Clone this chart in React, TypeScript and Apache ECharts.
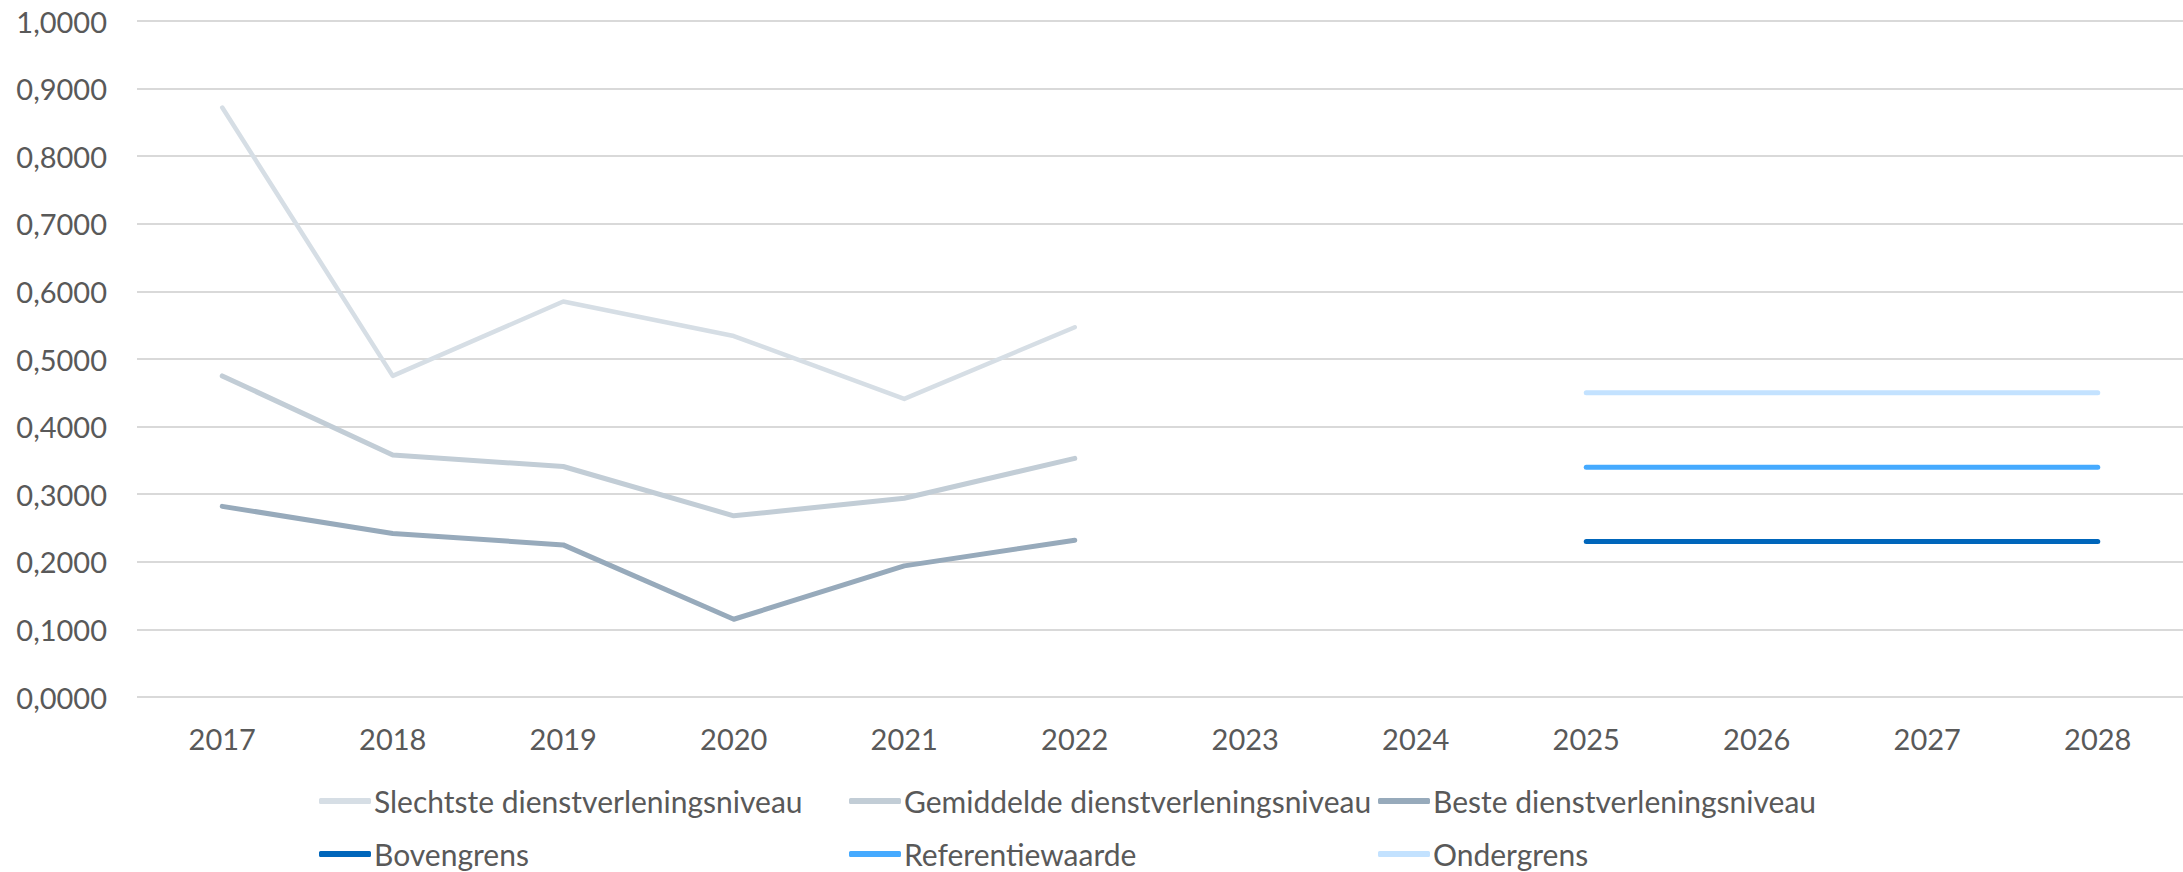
import React, { useEffect, useRef } from "react";
import * as echarts from "echarts";

const years = ["2017", "2018", "2019", "2020", "2021", "2022", "2023", "2024", "2025", "2026", "2027", "2028"];
const slechtste = [0.872, 0.475, 0.585, 0.534, 0.441, 0.547, null, null, null, null, null, null];
const gemiddelde = [0.475, 0.358, 0.341, 0.268, 0.294, 0.353, null, null, null, null, null, null];
const beste = [0.282, 0.242, 0.225, 0.115, 0.194, 0.232, null, null, null, null, null, null];
const bovengrens = [null, null, null, null, null, null, null, null, 0.23, 0.23, 0.23, 0.23];
const referentiewaarde = [null, null, null, null, null, null, null, null, 0.34, 0.34, 0.34, 0.34];
const ondergrens = [null, null, null, null, null, null, null, null, 0.45, 0.45, 0.45, 0.45];

const names = [
  "Slechtste dienstverleningsniveau",
  "Gemiddelde dienstverleningsniveau",
  "Beste dienstverleningsniveau",
  "Bovengrens",
  "Referentiewaarde",
  "Ondergrens",
];
const colors = ["#D6DEE5", "#C2CDD6", "#97AABB", "#0066BB", "#45AAFF", "#C3E2FF"];
const widths = [4.5, 5, 5, 5, 5, 5];
const seriesData = [slechtste, gemiddelde, beste, bovengrens, referentiewaarde, ondergrens];

const FONT = "Lato, 'Open Sans', sans-serif";
const TEXT = "#595959";
const legendLefts = [319, 849, 1378];
const legendTops = [786, 839];

export default function App() {
  const ref = useRef<HTMLDivElement>(null);
  useEffect(() => {
    if (!ref.current) return;
    const chart = echarts.init(ref.current, null, { renderer: "svg" });
    const legends = names.map((n, i) => ({
      orient: "horizontal",
      itemWidth: 52,
      itemHeight: 6,
      itemGap: 0,
      icon: "roundRect",
      textStyle: { color: TEXT, fontSize: 30, fontFamily: FONT, padding: [0, 0, 0, -2] },
      left: legendLefts[i % 3],
      top: legendTops[Math.floor(i / 3)],
      padding: 0,
      data: [n],
    }));
    chart.setOption({
      animation: false,
      color: colors,
      grid: { left: 137, right: 0, top: 21, bottom: 175, containLabel: false },
      legend: legends,
      xAxis: {
        type: "category",
        data: years,
        boundaryGap: true,
        axisLine: { show: false },
        axisTick: { show: false },
        axisLabel: { color: TEXT, fontSize: 29, fontFamily: FONT, margin: 27, lineHeight: 28 },
      },
      yAxis: {
        type: "value",
        min: 0,
        max: 1,
        interval: 0.1,
        axisLine: { show: false },
        axisTick: { show: false },
        splitLine: { lineStyle: { color: "#D9D9D9", width: 2 } },
        axisLabel: {
          color: TEXT,
          fontSize: 29,
          fontFamily: FONT,
          margin: 30,
          formatter: (v: number) => v.toFixed(4).replace(".", ","),
        },
      },
      series: seriesData.map((d, i) => ({
        name: names[i],
        type: "line",
        data: d,
        symbol: "none",
        connectNulls: false,
        lineStyle: { color: colors[i], width: widths[i], cap: "round", join: "round" },
        itemStyle: { color: colors[i] },
      })),
    });
    return () => chart.dispose();
  }, []);
  return (
    <div
      ref={ref}
      style={{ position: "fixed", left: 0, top: 0, width: 2183, height: 872, background: "#fff" }}
    />
  );
}
